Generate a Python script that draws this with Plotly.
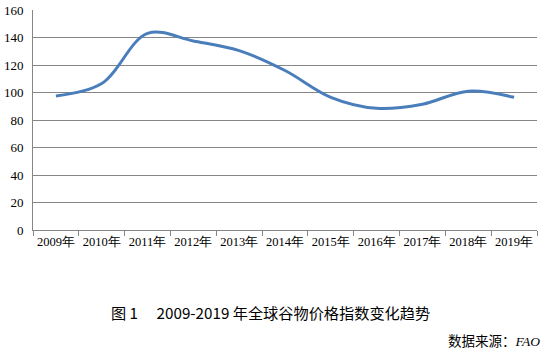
import plotly.graph_objects as go

years = ["2009年", "2010年", "2011年", "2012年", "2013年", "2014年",
         "2015年", "2016年", "2017年", "2018年", "2019年"]
index_values = [97.5, 106.5, 143.0, 137.5, 130.5, 116.0, 96.5, 88.5, 91.5, 101.0, 96.5]
y_ticks = [0, 20, 40, 60, 80, 100, 120, 140, 160]

caption = "图 1\u3000 2009-2019 年全球谷物价格指数变化趋势"
source = "数据来源：<i><span style='font-family:Liberation Serif'>FAO</span></i>"

serif = "Liberation Serif"
sans = "Noto Sans CJK SC"

fig = go.Figure()
fig.add_trace(go.Scatter(
    x=years, y=index_values, mode="lines",
    line=dict(color="#4A7EBB", width=3, shape="spline", smoothing=1.0),
    hoverinfo="skip", showlegend=False,
))

fig.update_layout(
    width=557, height=356,
    margin=dict(l=33, r=20, t=10, b=126, autoexpand=False),
    paper_bgcolor="white", plot_bgcolor="white",
    font=dict(family=serif, size=12.5, color="#000000"),
)
fig.update_xaxes(
    type="category", range=[-0.5, 10.5], automargin=False, tickangle=0,
    showline=True, linecolor="#868686", linewidth=1,
    ticks="outside", tickson="boundaries", ticklen=5, tickcolor="#868686",
    showgrid=False, tickfont=dict(family=serif, size=12.5, color="#000"),
)
fig.update_yaxes(
    range=[0, 160], tickvals=y_ticks, automargin=False,
    showline=True, linecolor="#868686", linewidth=1,
    showgrid=True, gridcolor="#868686", gridwidth=1,
    zeroline=False, ticks="", ticklabelstandoff=6,
    tickfont=dict(family=serif, size=13, color="#000"),
)

fig.add_annotation(
    text=caption, xref="paper", yref="paper", x=(270 - 33) / 504, y=-(312 - 230) / 220,
    xanchor="center", yanchor="middle", showarrow=False,
    font=dict(family=sans, size=15.2, color="#000"),
)
fig.add_annotation(
    text=source, xref="paper", yref="paper", x=(542 - 33) / 504, y=-(340 - 230) / 220,
    xanchor="right", yanchor="middle", showarrow=False,
    font=dict(family=sans, size=13.5, color="#000"),
)

# remove the browser's default 8px body margin so the figure sits at the page origin
fig.write_html("out.html", config={"displayModeBar": False},
               post_script="document.body.style.margin='0';")
